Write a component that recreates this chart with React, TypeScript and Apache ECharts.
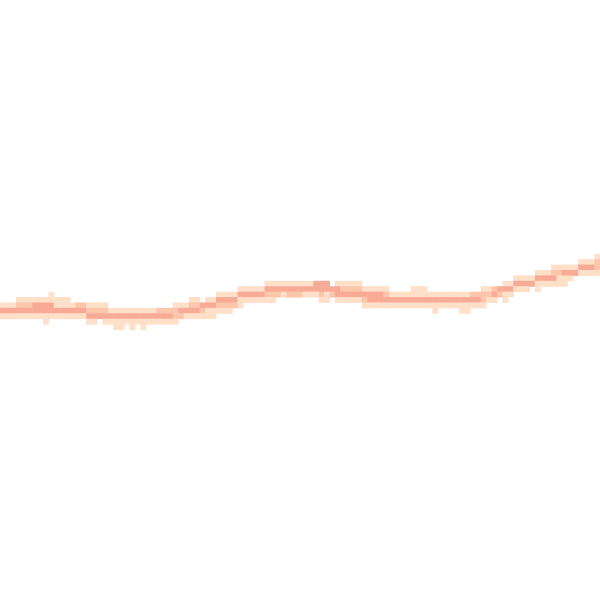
import React, { useEffect, useRef } from "react";
import * as echarts from "echarts";

// 111 x 111 cell grid; for each column: first occupied row (from top) and level digits downward
const N_COLS = 111;
const N_ROWS = 111;

const topRow: number[] = [
  56, 56, 56, 55, 55, 55, 55, 55, 55, 54, // 0-9
  55, 55, 55, 56, 56, 56, 56, 56, 56, 56, // 10-19
  57, 57, 57, 57, 57, 57, 57, 57, 57, 57, // 20-29
  57, 57, 56, 56, 56, 55, 55, 56, 55, 55, // 30-39
  54, 54, 54, 54, 53, 53, 53, 53, 53, 52, // 40-49
  52, 52, 52, 52, 52, 52, 52, 52, 52, 52, // 50-59
  52, 53, 52, 52, 52, 52, 52, 53, 53, 53, // 60-69
  53, 53, 54, 54, 54, 54, 53, 53, 53, 54, // 70-79
  54, 54, 54, 54, 54, 54, 54, 54, 54, 53, // 80-89
  53, 53, 53, 52, 52, 51, 51, 51, 51, 50, // 90-99
  50, 50, 49, 49, 49, 49, 49, 48, 48, 48, // 100-109
  47, // 110
];

const levels: string[] = [
  "131", "131", "131", "1231", "1231", "1231", "1331", "1331", "13311", "11331", // 0-9
  "1131", "1131", "1131", "131", "231", "231", "1231", "1231", "123", "1231", // 10-19
  "131", "1311", "1311", "131", "1311", "131", "1311", "131", "131", "231", // 20-29
  "231", "231", "1221", "132", "131", "1231", "1231", "321", "1311", "1311", // 30-39
  "1321", "1321", "1321", "132", "1311", "131", "131", "131", "131", "1321", // 40-49
  "1321", "132", "131", "132", "132", "132", "131", "131", "331", "3321", // 50-59
  "3311", "32", "1331", "1231", "1231", "1231", "1231", "1321", "1331", "1331", // 60-69
  "1331", "1231", "131", "131", "131", "131", "1131", "1131", "1131", "131", // 70-79
  "1311", "131", "131", "131", "131", "1311", "1311", "231", "231", "1221", // 80-89
  "121", "231", "32", "1311", "131", "131", "131", "131", "13", "1311", // 90-99
  "131", "131", "1231", "1211", "1311", "131", "13", "131", "131", "131", // 100-109
  "1221", // 110
];

const levelColors: string[] = ["#fedfc8", "#fcc6ad", "#f8aa96"];

export default function App() {
  const ref = useRef<HTMLDivElement>(null);
  useEffect(() => {
    if (!ref.current) return;
    const chart = echarts.init(ref.current, null, { renderer: "svg" });
    const cols = Array.from({ length: N_COLS }, (_, i) => String(i));
    const rows = Array.from({ length: N_ROWS }, (_, i) => String(i));
    const data: number[][] = [];
    for (let c = 0; c < N_COLS; c++) {
      const s = levels[c];
      for (let k = 0; k < s.length; k++) {
        const v = Number(s[k]);
        if (v > 0) data.push([c, topRow[c] + k, v]);
      }
    }
    chart.setOption({
      animation: false,
      backgroundColor: "#ffffff",
      grid: { left: 0, right: 0, top: 0, bottom: 0 },
      xAxis: { type: "category", data: cols, show: false },
      yAxis: { type: "category", data: rows, show: false, inverse: true },
      visualMap: {
        show: false,
        type: "piecewise",
        dimension: 2,
        pieces: [
          { value: 1, color: levelColors[0] },
          { value: 2, color: levelColors[1] },
          { value: 3, color: levelColors[2] },
        ],
      },
      series: [
        {
          type: "heatmap",
          data,
          itemStyle: { borderWidth: 0 },
          emphasis: { disabled: true },
        },
      ],
    });
    return () => chart.dispose();
  }, []);
  return (
    <div
      ref={ref}
      style={{ position: "fixed", left: 0, top: 0, width: 600, height: 600 }}
    />
  );
}
